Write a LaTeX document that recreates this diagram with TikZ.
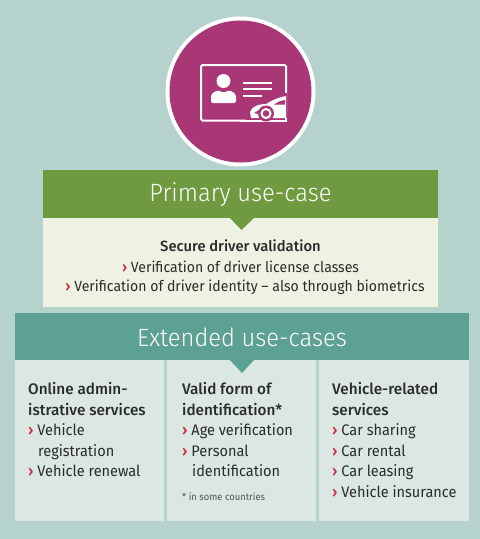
\documentclass[tikz,border=0pt]{standalone}
\usepackage{fontspec}
\setmainfont[FakeStretch=0.95]{Fira Sans}
\newfontfamily\lightf[FakeStretch=0.95]{Fira Sans Light}
\newfontfamily\medf{Fira Sans Medium}
\definecolor{bgc}{HTML}{B6D2CD}
\definecolor{mag}{HTML}{A93675}
\definecolor{grn}{HTML}{6F9A3F}
\definecolor{grnl}{HTML}{EEF2E3}
\definecolor{teal}{HTML}{5CA192}
\definecolor{teall}{HTML}{DAE7E3}
\definecolor{ink}{HTML}{2B2B2B}
\definecolor{chev}{HTML}{D0293F}
\newcommand{\chv}{\textcolor{chev}{\medf›}}
\tikzset{
 x=1pt,y=-1pt,
 hdr/.style={font=\lightf\fontsize{25}{30}\selectfont,text=white,anchor=center,inner sep=0pt},
 body/.style={font=\fontsize{15.3}{20.6}\selectfont,text=ink,anchor=north west,inner sep=0pt,align=left},
 cbody/.style={font=\fontsize{14.8}{20.6}\selectfont,text=ink,anchor=center,inner sep=0pt},
 note/.style={font=\fontsize{9.9}{11}\selectfont,text=ink!80,anchor=west,inner sep=0pt},
 ico/.style={white,line width=2pt},
}
\begin{document}
\begin{tikzpicture}
\useasboundingbox (0,0) rectangle (480,539);
\fill[bgc] (0,0) rectangle (480,539);
% icon
\fill[white] (240.5,91.5) circle (75);
\fill[mag] (240.5,91.5) circle (71);
\draw[ico,rounded corners=1.5pt] (201,65) rectangle (286,120.5);
\fill[white] (223.5,81) circle (7);
\fill[white,rounded corners=2pt] (211,103) -- (211,94) -- (218,90) -- (223.5,93) -- (229,90) -- (236,94) -- (236,103) -- cycle;
\foreach \y/\w in {83/272,89/272,96/262}{\draw[white,line width=2pt] (243,\y) -- (\w,\y);}
\fill[mag] (287.1,90) -- (262,97) -- (246,108) -- (246,123) -- (287.1,123) -- cycle;
\draw[ico] (286,118) -- (286,120.5) -- (240,120.5);
\draw[ico] (286,80) -- (286,93);
\fill[white] (286,96) .. controls (276,98) and (271,101) .. (266,104) .. controls (259,104) and (252,106) .. (250,112) -- (251,118) -- (286,118) -- cycle;
\fill[mag] (285,100) .. controls (280,101) and (277,102) .. (274,104.5) -- (285,104.5) -- cycle;
\fill[mag] (254,113) -- (259,110) -- (259,114) -- cycle;
\fill[mag] (266,113.5) circle (8);
\draw[white,line width=2pt] (266,113.5) circle (4.5);
% primary
\fill[grnl] (43,218) rectangle (438,307);
\fill[grn] (43,170) rectangle (438,218);
\fill[grn] (229,217) -- (255,217) -- (241.5,230) -- cycle;
\node[hdr] (prim) at (240.5,195) {Primary use-case};
\node[cbody] (p1) at (240.5,245.5) {\medf Secure driver validation};
\node[cbody] (p2) at (240.5,266.5) {\chv{} Verification of driver license classes};
\node[cbody] (p3) at (245,287.5) {\chv{} Verification of driver identity – also through biometrics};
% extended
\fill[teall] (15,360) rectangle (164,521);
\fill[teall] (167,360) rectangle (316,521);
\fill[teall] (319,360) rectangle (469,521);
\fill[teal] (15,313) rectangle (469,360);
\fill[teal] (229,359) -- (255,359) -- (242,373) -- cycle;
\node[hdr] (ext) at (242,337) {Extended use-cases};
\node[body] (c1h) at (28,382) {\medf Online admin-\\\medf istrative services};
\node[body] (c1) at (28,423.5) {\chv{} Vehicle\\\hspace*{10pt}registration\\\chv{} Vehicle renewal};
\node[body] (c2h) at (182,382) {\medf Valid form of\\\medf identification*};
\node[body] (c2) at (182,423.5) {\chv{} Age verification\\\chv{} Personal\\\hspace*{10pt}identification};
\node[note] (n) at (182,497) {* in some countries};
\node[body] (c3h) at (332,382) {\medf Vehicle-related\\\medf services};
\node[body] (c3) at (332,423.5) {\chv{} Car sharing\\\chv{} Car rental\\\chv{} Car leasing\\\chv{} Vehicle insurance};
\end{tikzpicture}
\end{document}
